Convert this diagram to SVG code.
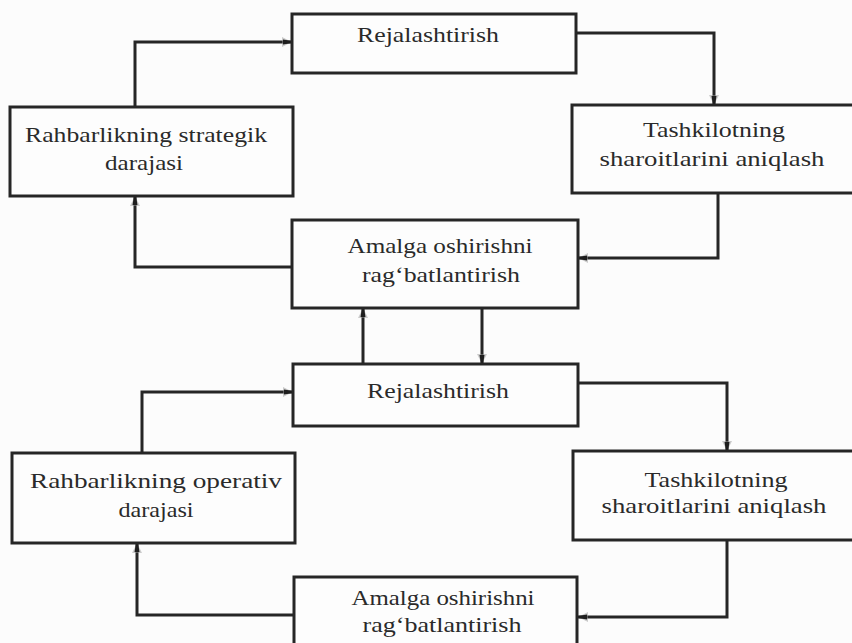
<svg xmlns="http://www.w3.org/2000/svg" width="852" height="643" viewBox="0 0 852 643">
  <style>
    .box { fill: #fdfdfd; stroke: #262626; stroke-width: 3; }
    .wire { fill: none; stroke: #262626; stroke-width: 3; }
    .lbl { font-family: "Liberation Serif", "Times New Roman", serif; font-size: 21.5px; fill: #2a2a2a; text-anchor: middle; }
  </style>
  <defs>
    <marker id="head" markerUnits="userSpaceOnUse" markerWidth="14" markerHeight="14" refX="12" refY="7" orient="auto">
      <path d="M2,2 L12,7 L2,12 Z" fill="#9a9a9a" opacity="0.5"/>
      <path d="M3,4.5 L12,6 L12,8 L3,9.5 Z" fill="#1e1e1e"/>
    </marker>
  </defs>
  <rect width="852" height="643" fill="#fcfcfc"/>

  <!-- connectors -->
  <g id="connectors">
    <path class="wire" d="M135,107 V42 H292" marker-end="url(#head)"/>
    <path class="wire" d="M576,33 H714 V105" marker-end="url(#head)"/>
    <path class="wire" d="M718,193 V258 H578" marker-end="url(#head)"/>
    <path class="wire" d="M292,267 H135 V196" marker-end="url(#head)"/>
    <path class="wire" d="M363,364 V308" marker-end="url(#head)"/>
    <path class="wire" d="M482,308 V364" marker-end="url(#head)"/>
    <path class="wire" d="M142,453 V392 H293" marker-end="url(#head)"/>
    <path class="wire" d="M578,383 H727 V451" marker-end="url(#head)"/>
    <path class="wire" d="M727,540 V617 H578" marker-end="url(#head)"/>
    <path class="wire" d="M294,615 H137 V543" marker-end="url(#head)"/>
  </g>

  <!-- strategic level -->
  <g id="plan1">
    <rect class="box" x="292" y="14" width="284" height="59"/>
    <text class="lbl" x="428" y="42" textLength="142" lengthAdjust="spacingAndGlyphs">Rejalashtirish</text>
  </g>
  <g id="strategic">
    <rect class="box" x="10" y="107" width="283" height="89"/>
    <text class="lbl" x="146" y="142" textLength="242" lengthAdjust="spacingAndGlyphs">Rahbarlikning strategik</text>
    <text class="lbl" x="144" y="170" textLength="78" lengthAdjust="spacingAndGlyphs">darajasi</text>
  </g>
  <g id="conditions1">
    <rect class="box" x="572" y="105" width="290" height="88"/>
    <text class="lbl" x="714" y="137" textLength="142" lengthAdjust="spacingAndGlyphs">Tashkilotning</text>
    <text class="lbl" x="712" y="166" textLength="225" lengthAdjust="spacingAndGlyphs">sharoitlarini aniqlash</text>
  </g>
  <g id="motivate1">
    <rect class="box" x="292" y="220" width="286" height="88"/>
    <text class="lbl" x="440" y="253" textLength="185" lengthAdjust="spacingAndGlyphs">Amalga oshirishni</text>
    <text class="lbl" x="441" y="282" textLength="158" lengthAdjust="spacingAndGlyphs">rag‘batlantirish</text>
  </g>

  <!-- operative level -->
  <g id="plan2">
    <rect class="box" x="293" y="364" width="285" height="62"/>
    <text class="lbl" x="438" y="398" textLength="142" lengthAdjust="spacingAndGlyphs">Rejalashtirish</text>
  </g>
  <g id="operative">
    <rect class="box" x="12" y="453" width="283" height="90"/>
    <text class="lbl" x="156" y="488" textLength="252" lengthAdjust="spacingAndGlyphs">Rahbarlikning operativ</text>
    <text class="lbl" x="156" y="517" textLength="75" lengthAdjust="spacingAndGlyphs">darajasi</text>
  </g>
  <g id="conditions2">
    <rect class="box" x="573" y="451" width="290" height="89"/>
    <text class="lbl" x="716" y="487" textLength="143" lengthAdjust="spacingAndGlyphs">Tashkilotning</text>
    <text class="lbl" x="714" y="513" textLength="225" lengthAdjust="spacingAndGlyphs">sharoitlarini aniqlash</text>
  </g>
  <g id="motivate2">
    <rect class="box" x="294" y="577" width="283" height="80"/>
    <text class="lbl" x="443" y="605" textLength="183" lengthAdjust="spacingAndGlyphs">Amalga oshirishni</text>
    <text class="lbl" x="442" y="632" textLength="159" lengthAdjust="spacingAndGlyphs">rag‘batlantirish</text>
  </g>
</svg>
